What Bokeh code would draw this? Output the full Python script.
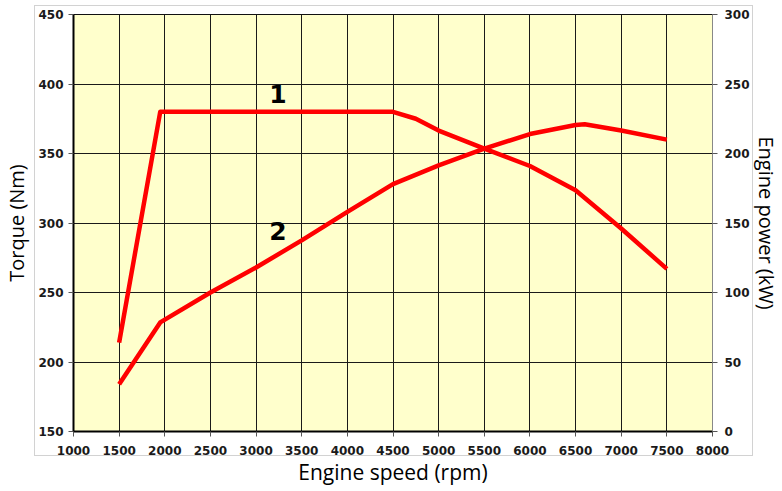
from bokeh.plotting import figure
from bokeh.models import Range1d, LinearAxis, FixedTicker, InlineStyleSheet
from bokeh.core.properties import value
from bokeh.embed import file_html
from bokeh.resources import INLINE

# ---- data ----
x_ticks = [1000, 1500, 2000, 2500, 3000, 3500, 4000, 4500, 5000, 5500, 6000, 6500, 7000, 7500, 8000]
torque_ticks = [150, 200, 250, 300, 350, 400, 450]
power_ticks = [0, 50, 100, 150, 200, 250, 300]

torque_rpm = [1500, 1950, 4500, 4750, 5000, 5500, 6000, 6500, 7000, 7500]
torque_nm = [214, 380, 380, 375, 366.5, 353.5, 341, 323.5, 296, 267]

power_rpm = [1500, 1950, 2500, 3000, 3500, 4000, 4500, 5000, 5500, 6000, 6500, 6600, 7000, 7500]
power_kw = [34, 78.5, 100, 118, 137.5, 158, 178, 191.5, 203.5, 214, 220.5, 221, 216.5, 210]

curve_labels = ["1", "2"]
label_rpm = [3240, 3240]
label_torque = [392.5, 294.5]

TICK_FONT = "DejaVu Sans"
LABEL_FONT = "Open Sans"

p = figure(width=782, height=491,
           x_range=Range1d(1000, 8000), y_range=Range1d(150, 450),
           output_backend="svg", toolbar_location=None,
           min_border_left=73, min_border_right=66,
           min_border_top=14, min_border_bottom=60)
p.extra_y_ranges = {"power": Range1d(0, 300)}

p.background_fill_color = "#FFFFCC"
p.border_fill_color = "white"
p.outline_line_color = "#111111"
p.outline_line_width = 1

# light grey frame around the chart panel
p.stylesheets = [InlineStyleSheet(css="""
:host::after {
  content: '';
  position: absolute;
  left: 34px; top: 5px; width: 719px; height: 451px;
  border: 1.5px solid #d2d2d2;
  box-sizing: border-box;
  pointer-events: none;
}
""")]

# axes
p.xaxis.ticker = FixedTicker(ticks=x_ticks)
p.yaxis.ticker = FixedTicker(ticks=torque_ticks)
p.xaxis.axis_label = "Engine speed (rpm)"
p.yaxis.axis_label = "Torque (Nm)"

right = LinearAxis(y_range_name="power", ticker=FixedTicker(ticks=power_ticks),
                   axis_label="Engine power (kW)")
p.add_layout(right, "right")

for ax in [p.xaxis[0], p.yaxis[0], right]:
    ax.major_label_text_font = TICK_FONT
    ax.major_label_text_font_style = "bold"
    ax.major_label_text_font_size = "12px"
    ax.major_label_text_color = "#1a1a1a"
    ax.axis_label_text_font = LABEL_FONT
    ax.axis_label_text_font_style = "normal"
    ax.axis_label_text_font_size = "21px"
    ax.axis_label_text_color = "black"
    ax.major_tick_in = 0
    ax.major_tick_out = 5
    ax.major_tick_line_color = "#555555"
    ax.minor_tick_line_color = None
    ax.major_label_standoff = 5

p.yaxis.axis_label_text_font_size = "20px"
p.xaxis.major_label_standoff = 9
right.major_label_standoff = 7

p.xaxis.axis_line_color = "black"
p.xaxis.axis_line_width = 2
p.yaxis.axis_line_color = "black"
p.yaxis.axis_line_width = 2
right.axis_line_color = "#888888"
right.axis_line_width = 1
p.xaxis.axis_label_standoff = 0
p.yaxis.axis_label_standoff = 5
right.axis_label_standoff = 0

p.grid.grid_line_color = "#1a1a1a"
p.grid.grid_line_width = 1
p.xgrid.ticker = FixedTicker(ticks=x_ticks)
p.ygrid.ticker = FixedTicker(ticks=torque_ticks)

# curves
p.line(torque_rpm, torque_nm, line_color="#FF0000", line_width=4.5, line_join="round")
p.line(power_rpm, power_kw, y_range_name="power", line_color="#FF0000", line_width=4.5,
       line_join="round")

p.text(x=label_rpm, y=label_torque, text=curve_labels,
       text_font=value(TICK_FONT), text_font_style="bold", text_font_size="25px",
       text_align="center", text_baseline="middle", text_color="black")

open("out.html", "w").write(file_html(p, INLINE))
